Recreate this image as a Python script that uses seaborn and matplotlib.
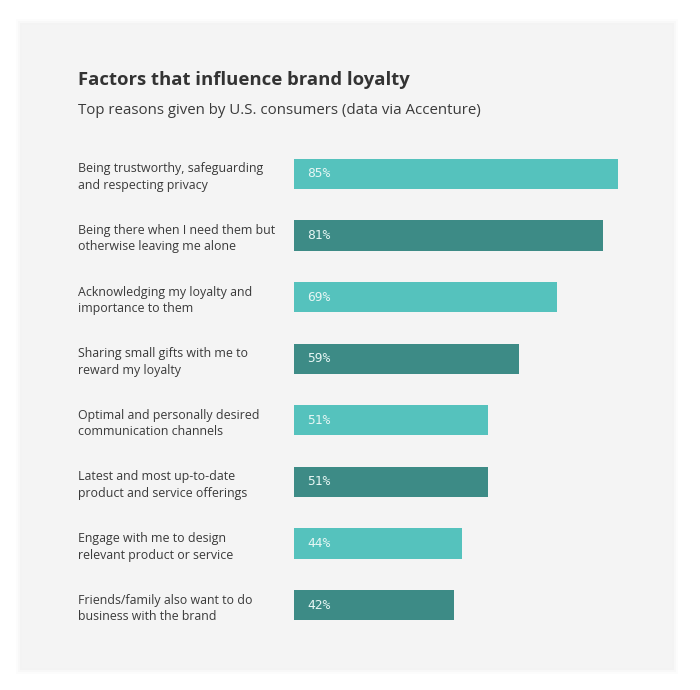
import matplotlib
matplotlib.use("Agg")
import matplotlib.pyplot as plt
import seaborn as sns
import pandas as pd
from matplotlib.patches import Rectangle

# Data
reasons = [
    "Being trustworthy, safeguarding\nand respecting privacy",
    "Being there when I need them but\notherwise leaving me alone",
    "Acknowledging my loyalty and\nimportance to them",
    "Sharing small gifts with me to\nreward my loyalty",
    "Optimal and personally desired\ncommunication channels",
    "Latest and most up-to-date\nproduct and service offerings",
    "Engage with me to design\nrelevant product or service",
    "Friends/family also want to do\nbusiness with the brand",
]
shares = [85, 81, 69, 59, 51, 51, 44, 42]
bar_colors = ["#55c2bd", "#3d8b86"] * 4

df = pd.DataFrame({"reason": reasons, "share": shares})

sns.set_theme(style="white")
plt.rcParams["font.family"] = ["Open Sans", "DejaVu Sans"]

fig = plt.figure(figsize=(7, 6.9), dpi=100)
fig.patch.set_facecolor("white")

# grey card with a faint shadow
W, H = 700, 690
for off, a in [(6, 0.012), (4, 0.015), (2, 0.02)]:
    fig.patches.append(Rectangle(((22 - off) / W, 1 - (668 + off) / H),
                                 (650 + 2 * off) / W, (643 + 2 * off) / H,
                                 transform=fig.transFigure, facecolor="black",
                                 alpha=a, edgecolor="none", zorder=-2))
fig.patches.append(Rectangle((22 / W, 1 - 668 / H), 650 / W, 643 / H,
                             transform=fig.transFigure, facecolor="#f4f4f4",
                             edgecolor="none", zorder=-1))

ax = fig.add_axes([294 / W, 1 - 636 / H, 381 / W, 493 / H])
ax.set_facecolor("none")
ax.set_zorder(2)

sns.barplot(data=df, x="share", y="reason", hue="reason", palette=bar_colors,
            legend=False, width=0.49, saturation=1, linewidth=0, ax=ax)

ax.set_xlim(0, 100)
ax.set_xlabel("")
ax.set_ylabel("")
ax.set_xticks([])
sns.despine(ax=ax, left=True, bottom=True)

ax.tick_params(axis="y", length=0, pad=216 * 0.72)
for lbl in ax.get_yticklabels():
    lbl.set_horizontalalignment("left")
    lbl.set_fontsize(8.9)
    lbl.set_color("#3a3a3a")
    lbl.set_linespacing(1.35)

for bar, v in zip(ax.patches, shares):
    ax.text(bar.get_x() + 3.4, bar.get_y() + bar.get_height() / 2, f"{v}%",
            ha="left", va="center", fontsize=9.3, color="#e6f6f4",
            family="DejaVu Sans Mono")

fig.text(78 / W, 1 - 80 / H, "Factors that influence brand loyalty",
         fontsize=13.3, fontweight="bold", color="#333333", va="center")
fig.text(78 / W, 1 - 110 / H,
         "Top reasons given by U.S. consumers (data via Accenture)",
         fontsize=10.8, color="#3a3a3a", va="center")

fig.savefig("out.png", dpi=100)
